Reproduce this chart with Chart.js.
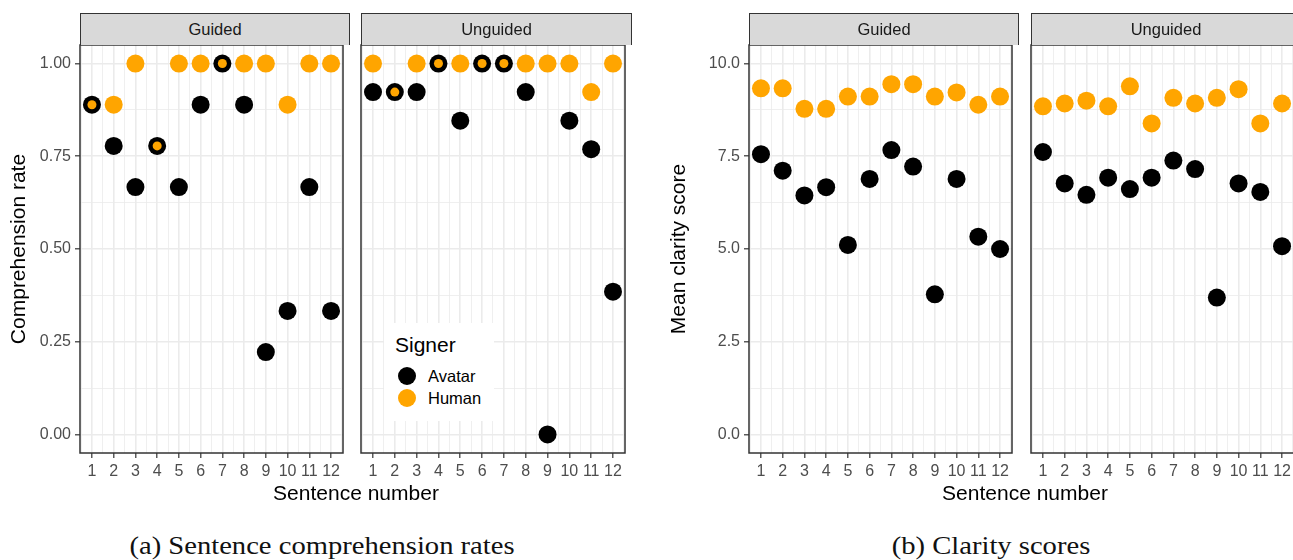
<!DOCTYPE html>
<html>
<head>
<meta charset="utf-8">
<script src="https://cdn.jsdelivr.net/npm/chart.js@4.4.1/dist/chart.umd.min.js"></script>
<style>
  html, body { margin: 0; padding: 0; background: #fff; overflow: hidden; }
  body { width: 1293px; height: 560px; position: relative; font-family: "Liberation Sans", Arial, sans-serif; }
  canvas { position: absolute; }
  .strip { position: absolute; top: 13px; height: 32px; box-sizing: border-box; background: #d9d9d9;
           border: 1.5px solid #333; border-bottom: none; font-size: 16.5px; color: #1a1a1a;
           text-align: center; line-height: 31px; white-space: nowrap; }
  .xtitle { position: absolute; top: 481px; height: 24px; line-height: 24px; font-size: 21px; color: #000;
            text-align: center; white-space: nowrap; }
  .ytitle { position: absolute; width: 300px; height: 24px; line-height: 24px; font-size: 21px; color: #000;
            text-align: center; white-space: nowrap; transform: rotate(-90deg); }
  .caption { position: absolute; top: 531px; height: 30px; line-height: 30px; font-family: "Liberation Serif", serif;
             font-size: 26px; color: #111; white-space: nowrap; text-align: center; transform: scaleX(1.1); }
  #legend { position: absolute; left: 384px; top: 323px; width: 110px; height: 98px; background: #fff; }
  #legend .ttl { position: absolute; left: 11px; top: 11px; font-size: 21px; line-height: 21px; }
  #legend .dot { position: absolute; left: 13.7px; width: 18px; height: 18px; border-radius: 50%; }
  #legend .lbl { position: absolute; left: 44px; height: 20px; line-height: 20px; font-size: 16.5px; }
</style>
</head>
<body>
<canvas id="cA1"></canvas>
<canvas id="cA2"></canvas>
<canvas id="cB1"></canvas>
<canvas id="cB2"></canvas>

<div class="strip" style="left:80px;width:270px">Guided</div>
<div class="strip" style="left:361px;width:271px">Unguided</div>
<div class="strip" style="left:749px;width:270px">Guided</div>
<div class="strip" style="left:1031px;width:270px">Unguided</div>

<div class="ytitle" style="left:-132px;top:237px">Comprehension rate</div>
<div class="ytitle" style="left:528px;top:237px">Mean clarity score</div>
<div class="xtitle" style="left:156px;width:400px">Sentence number</div>
<div class="xtitle" style="left:825px;width:400px">Sentence number</div>

<div id="legend">
  <div class="ttl">Signer</div>
  <div class="dot" style="top:44px;background:#000"></div>
  <div class="lbl" style="top:43px">Avatar</div>
  <div class="dot" style="top:66px;background:#FFA500"></div>
  <div class="lbl" style="top:65px">Human</div>
</div>

<div class="caption" style="left:72px;width:500px">(a) Sentence comprehension rates</div>
<div class="caption" style="left:791px;width:400px">(b) Clarity scores</div>

<script>
// sentence numbers (x axis)
const sentences = [1, 2, 3, 4, 5, 6, 7, 8, 9, 10, 11, 12];

// comprehension rate
const compGuidedAvatar   = [0.889, 0.778, 0.667, 0.778, 0.667, 0.889, 1.000, 0.889, 0.222, 0.333, 0.667, 0.333];
const compGuidedHuman    = [0.889, 0.889, 1.000, 0.778, 1.000, 1.000, 1.000, 1.000, 1.000, 0.889, 1.000, 1.000];
const compUnguidedAvatar = [0.923, 0.923, 0.923, 1.000, 0.846, 1.000, 1.000, 0.923, 0.000, 0.846, 0.769, 0.385];
const compUnguidedHuman  = [1.000, 0.923, 1.000, 1.000, 1.000, 1.000, 1.000, 1.000, 1.000, 1.000, 0.923, 1.000];

// mean clarity score
const clarGuidedAvatar   = [7.556, 7.111, 6.444, 6.667, 5.111, 6.889, 7.667, 7.222, 3.778, 6.889, 5.333, 5.000];
const clarGuidedHuman    = [9.333, 9.333, 8.778, 8.778, 9.111, 9.111, 9.444, 9.444, 9.111, 9.222, 8.889, 9.111];
const clarUnguidedAvatar = [7.615, 6.769, 6.462, 6.923, 6.615, 6.923, 7.385, 7.154, 3.692, 6.769, 6.538, 5.077];
const clarUnguidedHuman  = [8.846, 8.923, 9.000, 8.846, 9.385, 8.385, 9.077, 8.923, 9.077, 9.308, 8.385, 8.923];

// tick labels
const compTicks = [0, 0.25, 0.5, 0.75, 1];
const clarTicks = [0, 2.5, 5, 7.5, 10];

const AVATAR = "#000000";
const HUMAN = "#FFA500";
const FONT = "'Liberation Sans', Arial, sans-serif";
const CLEAR = "rgba(0,0,0,0)";

// major breaks plus the minor ones half way between (ggplot style)
function withMinor(major) {
  const step = major[1] - major[0];
  const out = [];
  for (let v = major[0] - step / 2; v <= major[major.length - 1] + step / 2 + 1e-9; v += step / 2) out.push(+v.toFixed(4));
  return out;
}

// box round the panel (theme_bw border)
const panelBox = {
  id: "panelBox",
  afterDraw(chart) {
    const { ctx, chartArea: a } = chart;
    ctx.save();
    ctx.strokeStyle = "#333333";
    ctx.lineWidth = 1.5;
    ctx.strokeRect(a.left, a.top, a.right - a.left, a.bottom - a.top);
    ctx.restore();
  }
};

function panel(id, box, ticks, lo, hi, digits, showY, human, avatar) {
  // same axis width on every panel; the inner panels just draw their labels invisible
  const wy = 60;
  const padTop = 14, padRight = 2, hx = 34;
  const cv = document.getElementById(id);
  cv.width = wy + box.w + padRight;
  cv.height = padTop + box.h + hx;
  cv.style.left = (box.x - wy) + "px";
  cv.style.top = (box.y - padTop) + "px";
  cv.style.width = cv.width + "px";
  cv.style.height = cv.height + "px";

  const yAll = withMinor(ticks);
  const xAll = withMinor(sentences);
  const yMajor = v => ticks.some(t => Math.abs(t - v) < 1e-6);
  const xMajor = v => Number.isInteger(v);

  return new Chart(cv, {
    type: "scatter",
    data: {
      datasets: [
        {
          label: "Human",
          data: sentences.map((s, i) => ({ x: s, y: human[i] })),
          backgroundColor: HUMAN,
          borderWidth: 0,
          // smaller dot where it sits on an avatar dot, so a black ring shows
          pointRadius: c => human[c.dataIndex] === avatar[c.dataIndex] ? 4.5 : 9,
          pointHoverRadius: c => human[c.dataIndex] === avatar[c.dataIndex] ? 4.5 : 9
        },
        {
          label: "Avatar",
          data: sentences.map((s, i) => ({ x: s, y: avatar[i] })),
          backgroundColor: AVATAR,
          borderWidth: 0,
          pointRadius: 9,
          pointHoverRadius: 9
        }
      ]
    },
    options: {
      responsive: false,
      maintainAspectRatio: false,
      animation: false,
      devicePixelRatio: 1,
      events: [],
      layout: { padding: { top: padTop, right: padRight, left: 0, bottom: 0 } },
      plugins: { legend: { display: false }, tooltip: { enabled: false } },
      scales: {
        x: {
          type: "linear",
          min: 0.45,
          max: 12.55,
          afterBuildTicks: s => { s.ticks = xAll.map(v => ({ value: v })); },
          afterFit: s => { s.height = hx; },
          border: { display: false },
          grid: {
            color: "#ebebeb",
            lineWidth: c => xMajor(c.tick.value) ? 1.6 : 0.8,
            tickColor: c => xMajor(c.tick.value) ? "#333333" : CLEAR,
            tickWidth: 1.2,
            tickLength: 5
          },
          ticks: {
            autoSkip: false,
            maxRotation: 0,
            padding: 4,
            color: "#4d4d4d",
            font: { family: FONT, size: 16 },
            callback: v => xMajor(v) ? String(v) : ""
          }
        },
        y: {
          type: "linear",
          min: lo,
          max: hi,
          afterBuildTicks: s => { s.ticks = yAll.filter(v => v >= lo && v <= hi).map(v => ({ value: v })); },
          afterFit: s => { s.width = wy; },
          border: { display: false },
          grid: {
            color: "#ebebeb",
            lineWidth: c => yMajor(c.tick.value) ? 1.6 : 0.8,
            tickColor: c => (showY && yMajor(c.tick.value)) ? "#333333" : CLEAR,
            tickWidth: 1.2,
            tickLength: 5
          },
          ticks: {
            autoSkip: false,
            padding: 4,
            color: showY ? "#4d4d4d" : CLEAR,
            font: { family: FONT, size: 16 },
            callback: v => yMajor(v) ? Number(v).toFixed(digits) : ""
          }
        }
      }
    },
    plugins: [panelBox]
  });
}

panel("cA1", { x: 80, y: 45, w: 270, h: 408 }, compTicks, -0.05, 1.05, 2, true, compGuidedHuman, compGuidedAvatar);
panel("cA2", { x: 361, y: 45, w: 271, h: 408 }, compTicks, -0.05, 1.05, 2, false, compUnguidedHuman, compUnguidedAvatar);
panel("cB1", { x: 749, y: 45, w: 270, h: 408 }, clarTicks, -0.5, 10.5, 1, true, clarGuidedHuman, clarGuidedAvatar);
panel("cB2", { x: 1031, y: 45, w: 270, h: 408 }, clarTicks, -0.5, 10.5, 1, false, clarUnguidedHuman, clarUnguidedAvatar);
</script>
</body>
</html>
